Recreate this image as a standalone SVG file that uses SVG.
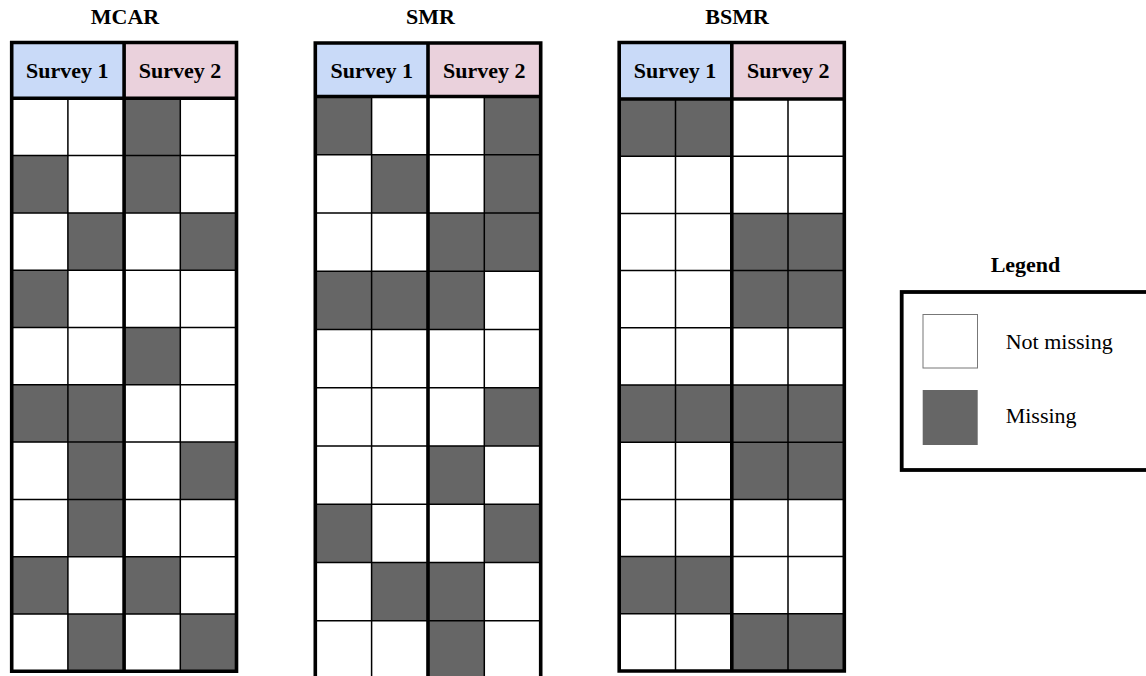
<svg xmlns="http://www.w3.org/2000/svg" width="1146" height="676" viewBox="0 0 1146 676">
<style>
.t{font-family:"Liberation Serif",serif;font-weight:bold;font-size:22px;text-anchor:middle;fill:#000}
.lt{font-family:"Liberation Serif",serif;font-size:22px;fill:#000}
.s1{fill:#c9daf8}
.s2{fill:#ead1dc}
.m{fill:#666666}
.w{fill:#ffffff}
.thin{stroke:#000;stroke-width:1.5;fill:none}
.thick{stroke:#000;stroke-width:3.6;fill:none}
</style>
<rect width="1146" height="676" fill="#fff"/>

<g id="mcar">
<text class="t" x="125" y="24">MCAR</text>
<rect class="s1" x="11.7" y="42.5" width="112.4" height="55.8"/>
<rect class="s2" x="124.1" y="42.5" width="112.4" height="55.8"/>
<g class="m">
<rect x="124.1" y="98.3" width="56.2" height="57.3"/>
<rect x="11.7" y="155.6" width="56.2" height="57.3"/><rect x="124.1" y="155.6" width="56.2" height="57.3"/>
<rect x="67.9" y="212.9" width="56.2" height="57.3"/><rect x="180.3" y="212.9" width="56.2" height="57.3"/>
<rect x="11.7" y="270.2" width="56.2" height="57.3"/>
<rect x="124.1" y="327.5" width="56.2" height="57.3"/>
<rect x="11.7" y="384.8" width="112.4" height="57.3"/>
<rect x="67.9" y="442.1" width="56.2" height="57.3"/><rect x="180.3" y="442.1" width="56.2" height="57.3"/>
<rect x="67.9" y="499.4" width="56.2" height="57.3"/>
<rect x="11.7" y="556.7" width="56.2" height="57.3"/><rect x="124.1" y="556.7" width="56.2" height="57.3"/>
<rect x="67.9" y="614" width="56.2" height="57.3"/><rect x="180.3" y="614" width="56.2" height="57.3"/>
</g>
<path class="thin" d="M67.9 98.3V671.3M180.3 98.3V671.3M11.7 155.6H236.5M11.7 212.9H236.5M11.7 270.2H236.5M11.7 327.5H236.5M11.7 384.8H236.5M11.7 442.1H236.5M11.7 499.4H236.5M11.7 556.7H236.5M11.7 614H236.5"/>
<path class="thick" d="M11.7 42.5H236.5V671.3H11.7ZM124.1 42.5V671.3M11.7 98.3H236.5"/>
<text class="t" x="67.2" y="78">Survey 1</text>
<text class="t" x="180" y="78">Survey 2</text>
</g>

<g id="smr">
<text class="t" x="430.5" y="24">SMR</text>
<rect class="s1" x="315.3" y="43" width="112.7" height="53.5"/>
<rect class="s2" x="428" y="43" width="112.7" height="53.5"/>
<g class="m">
<rect x="315.3" y="96.5" width="56.3" height="58.25"/><rect x="484.3" y="96.5" width="56.4" height="58.25"/>
<rect x="371.6" y="154.75" width="56.4" height="58.25"/><rect x="484.3" y="154.75" width="56.4" height="58.25"/>
<rect x="428" y="213" width="112.7" height="58.25"/>
<rect x="315.3" y="271.25" width="169" height="58.25"/>
<rect x="484.3" y="387.75" width="56.4" height="58.25"/>
<rect x="428" y="446" width="56.3" height="58.25"/>
<rect x="315.3" y="504.25" width="56.3" height="58.25"/><rect x="484.3" y="504.25" width="56.4" height="58.25"/>
<rect x="371.6" y="562.5" width="112.7" height="58.25"/>
<rect x="428" y="620.75" width="56.3" height="58.25"/>
</g>
<path class="thin" d="M371.6 96.5V679M484.3 96.5V679M315.3 154.75H540.7M315.3 213H540.7M315.3 271.25H540.7M315.3 329.5H540.7M315.3 387.75H540.7M315.3 446H540.7M315.3 504.25H540.7M315.3 562.5H540.7M315.3 620.75H540.7"/>
<path class="thick" d="M315.3 43H540.7V679H315.3ZM428 43V679M315.3 96.5H540.7"/>
<text class="t" x="371.7" y="78">Survey 1</text>
<text class="t" x="484.3" y="78">Survey 2</text>
</g>

<g id="bsmr">
<text class="t" x="737" y="24">BSMR</text>
<rect class="s1" x="619.2" y="42.5" width="112.6" height="56.5"/>
<rect class="s2" x="731.8" y="42.5" width="112.5" height="56.5"/>
<g class="m">
<rect x="619.2" y="99" width="112.6" height="57.2"/>
<rect x="731.8" y="213.4" width="112.5" height="114.4"/>
<rect x="619.2" y="385" width="225.1" height="57.2"/>
<rect x="731.8" y="442.2" width="112.5" height="57.2"/>
<rect x="619.2" y="556.6" width="112.6" height="57.2"/>
<rect x="731.8" y="613.8" width="112.5" height="57.2"/>
</g>
<path class="thin" d="M675.5 99V671M788 99V671M619.2 156.2H844.3M619.2 213.4H844.3M619.2 270.6H844.3M619.2 327.8H844.3M619.2 385H844.3M619.2 442.2H844.3M619.2 499.4H844.3M619.2 556.6H844.3M619.2 613.8H844.3"/>
<path class="thick" d="M619.2 42.5H844.3V671H619.2ZM731.8 42.5V671M619.2 99H844.3"/>
<text class="t" x="675" y="78">Survey 1</text>
<text class="t" x="788.3" y="78">Survey 2</text>
</g>

<g id="legend">
<text class="t" x="1025.5" y="272">Legend</text>
<rect x="901.7" y="292" width="260" height="178" fill="#fff" stroke="#000" stroke-width="3.8"/>
<rect x="923" y="314.5" width="54.5" height="53.5" fill="#fff" stroke="#777" stroke-width="1"/>
<rect class="m" x="922.7" y="390" width="55" height="55"/>
<text class="lt" x="1005.7" y="348.5">Not missing</text>
<text class="lt" x="1005.7" y="423">Missing</text>
</g>
</svg>
